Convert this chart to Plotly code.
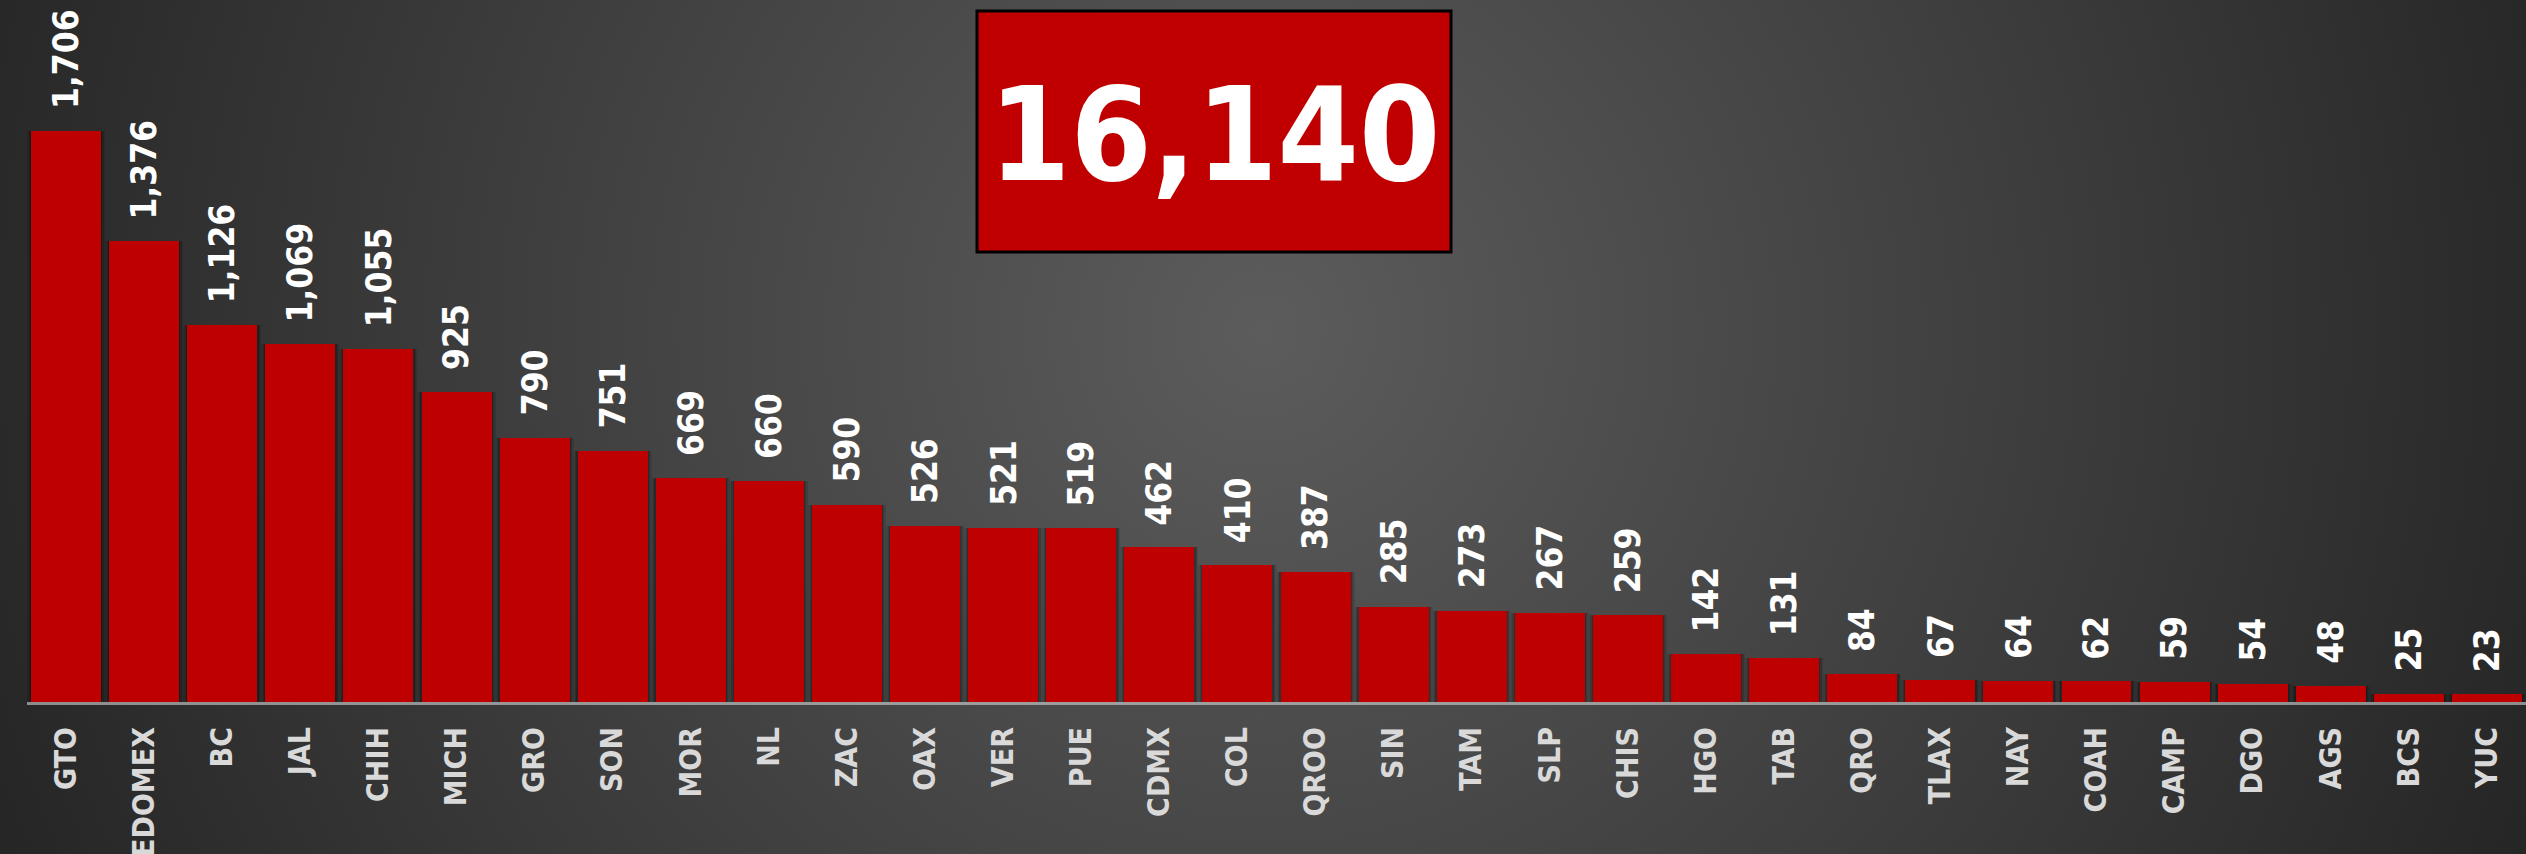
import base64
import plotly.graph_objects as go

states = ["GTO", "EDOMEX", "BC", "JAL", "CHIH", "MICH", "GRO", "SON", "MOR", "NL",
          "ZAC", "OAX", "VER", "PUE", "CDMX", "COL", "QROO", "SIN", "TAM", "SLP",
          "CHIS", "HGO", "TAB", "QRO", "TLAX", "NAY", "COAH", "CAMP", "DGO", "AGS",
          "BCS", "YUC"]
values = [1706, 1376, 1126, 1069, 1055, 925, 790, 751, 669, 660,
          590, 526, 521, 519, 462, 410, 387, 285, 273, 267,
          259, 142, 131, 84, 67, 64, 62, 59, 54, 48,
          25, 23]
total_label = "16,140"

W, H = 2526, 854
ML, MR, MT, MB = 27, 0, 0, 152
PW, PH = W - ML - MR, H - MT - MB

FONT = "DejaVu Sans Condensed, Liberation Sans Narrow, Roboto, sans-serif"
RED = "#BE0000"

svg = f'''<svg xmlns="http://www.w3.org/2000/svg" width="{W}" height="{H}" viewBox="0 0 {W} {H}">
<defs><radialGradient id="g" gradientUnits="userSpaceOnUse" cx="1263" cy="330" r="1350">
<stop offset="0" stop-color="#5c5c5c"/><stop offset="1" stop-color="#262626"/></radialGradient></defs>
<rect width="{W}" height="{H}" fill="url(#g)"/></svg>'''
bg_src = "data:image/svg+xml;base64," + base64.b64encode(svg.encode()).decode()

fig = go.Figure()
# soft shadow layers
for w, a in [(1.0, 0.10), (0.96, 0.14), (0.93, 0.18)]:
    fig.add_trace(go.Bar(x=states, y=values, width=w, marker=dict(color=f"rgba(0,0,0,{a})", line=dict(width=0)),
                         hoverinfo="skip", showlegend=False))
fig.add_trace(go.Bar(x=states, y=values, width=0.896, marker=dict(color=RED, line=dict(width=0)),
                     showlegend=False))

for s, v in zip(states, values):
    fig.add_annotation(x=s, y=v, text=f"{v:,}", showarrow=False, textangle=-90,
                       xanchor="center", yanchor="bottom", yshift=20,
                       font=dict(family=FONT, size=35, color="white", weight="bold"))

def px_to_paper_x(px):
    return (px - ML) / PW

def px_to_paper_y(py):
    return (H - MB - py) / PH

fig.add_shape(type="rect", xref="paper", yref="paper",
              x0=px_to_paper_x(977), x1=px_to_paper_x(1451),
              y0=px_to_paper_y(252), y1=px_to_paper_y(11),
              fillcolor="#C00000", line=dict(color="black", width=3), layer="above")
fig.add_annotation(xref="paper", yref="paper", x=px_to_paper_x(1214), y=px_to_paper_y(135),
                   text=total_label, showarrow=False, xanchor="center", yanchor="middle",
                   font=dict(family=FONT, size=130, color="white", weight="bold"))

fig.add_layout_image(source=bg_src, xref="paper", yref="paper",
                     x=-ML / PW, y=1 + MT / PH, sizex=W / PW, sizey=H / PH,
                     xanchor="left", yanchor="top", sizing="stretch", layer="below")

fig.update_layout(
    width=W, height=H, margin=dict(l=ML, r=MR, t=MT, b=MB, autoexpand=False),
    paper_bgcolor="#3a3a3a", plot_bgcolor="rgba(0,0,0,0)",
    barmode="overlay", bargap=0, showlegend=False,
    xaxis=dict(showline=True, linecolor="rgba(225,225,225,0.55)", linewidth=3,
               tickangle=-90, ticks="", ticklabelstandoff=10, showgrid=False, automargin=False,
               tickfont=dict(family=FONT, size=30, color="#d9d9d9", weight="bold"),
               range=[-0.5, len(states) - 0.5], fixedrange=True),
    yaxis=dict(visible=False, range=[0, 702 / 0.3347], fixedrange=True, automargin=False),
)

fig.write_html("out.html", config={"displayModeBar": False},
               post_script="document.body.style.margin='0';document.body.style.overflow='hidden';")
